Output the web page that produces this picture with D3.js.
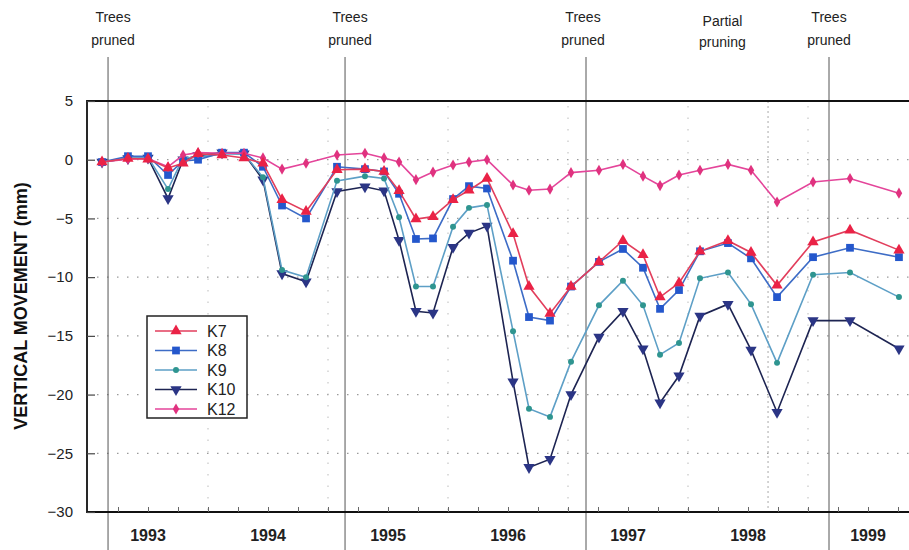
<!DOCTYPE html>
<html><head><meta charset="utf-8">
<script src="https://cdn.jsdelivr.net/npm/d3@7"></script>
<style>body{margin:0;background:#fff;}svg{display:block;font-family:"Liberation Sans",Arial,sans-serif;}</style>
</head><body>
<svg id="chart" width="909" height="550"></svg>
<script>
// ---- data ----
const times = [1993.117,1993.333,1993.5,1993.667,1993.792,1993.917,1994.117,1994.3,1994.458,1994.617,1994.817,
  1995.075,1995.308,1995.467,1995.592,1995.733,1995.875,1996.042,1996.175,1996.325,1996.542,1996.675,1996.85,
  1997.025,1997.258,1997.458,1997.625,1997.767,1997.925,1998.1,1998.333,1998.525,1998.742,1999.042,1999.35,1999.758];
const K7 = [-0.2,0.1,0.05,-0.7,-0.3,0.5,0.4,0.15,-0.3,-3.4,-4.4,-0.85,-0.8,-1.0,-2.65,-5.05,-4.85,-3.4,-2.6,-1.6,
  -6.3,-10.8,-13.1,-10.8,-8.7,-6.9,-8.1,-11.7,-10.5,-7.8,-6.9,-7.9,-10.7,-7.0,-6.0,-7.7];
const K8 = [-0.2,0.3,0.3,-1.3,-0.1,0.0,0.6,0.6,-0.6,-3.9,-5.0,-0.6,-0.8,-1.0,-2.9,-6.75,-6.7,-3.35,-2.25,-2.45,
  -8.6,-13.4,-13.7,-10.8,-8.7,-7.6,-9.2,-12.7,-11.1,-7.8,-7.1,-8.4,-11.7,-8.3,-7.5,-8.3];
const K9 = [-0.2,0.1,0.2,-2.5,0.15,0.2,0.5,0.5,-1.5,-9.4,-10.0,-1.8,-1.4,-1.6,-4.9,-10.8,-10.8,-5.7,-4.1,-3.85,
  -14.6,-21.2,-21.9,-17.2,-12.4,-10.3,-12.4,-16.6,-15.6,-10.1,-9.6,-12.3,-17.3,-9.8,-9.6,-11.7];
const K10 = [-0.2,0.1,0.15,-3.3,0.0,0.35,0.6,0.5,-1.7,-9.7,-10.4,-2.7,-2.3,-2.65,-6.85,-12.9,-13.05,-7.45,-6.25,-5.65,
  -18.9,-26.2,-25.5,-20.0,-15.1,-12.9,-16.1,-20.7,-18.4,-13.3,-12.3,-16.2,-21.5,-13.7,-13.7,-16.1];
const K12 = [-0.2,0.05,0.1,-0.6,0.4,0.6,0.55,0.55,0.15,-0.8,-0.3,0.4,0.55,0.15,-0.2,-1.7,-1.05,-0.45,-0.2,0.0,
  -2.15,-2.6,-2.5,-1.1,-0.9,-0.4,-1.4,-2.2,-1.3,-0.9,-0.4,-0.9,-3.6,-1.9,-1.6,-2.85];
const yearLabels = ["1993","1994","1995","1996","1997","1998","1999"];
const yTicks = [5,0,-5,-10,-15,-20,-25,-30];
const pruneTimes = [1993.167,1995.142,1997.15,1999.175];
const pruneLabels = [["Trees","pruned"],["Trees","pruned"],["Trees","pruned"],["Trees","pruned"]];
const partialTime = 1998.667;
const partialLabel = ["Partial","pruning"];

const seriesDefs = [
  {name:"K10", values:K10, line:"#1d2452", fill:"#2b3585", shape:"tridown"},
  {name:"K9",  values:K9,  line:"#5d9fc6", fill:"#2f9590", shape:"circle"},
  {name:"K8",  values:K8,  line:"#3d6cc6", fill:"#2457cc", shape:"square"},
  {name:"K12", values:K12, line:"#e4459a", fill:"#e0327f", shape:"diamond"},
  {name:"K7",  values:K7,  line:"#e23e5c", fill:"#ea2246", shape:"triup"}
];
const legendOrder = ["K7","K8","K9","K10","K12"];

// ---- layout ----
const svg = d3.select("#chart");
const L = 87, T = 101, B = 512, R = 909;
const x = d3.scaleLinear().domain([1993, 2000]).range([88, 928]);
const y = d3.scaleLinear().domain([-30, 5]).range([B, T]);

svg.append("clipPath").attr("id","clip").append("rect").attr("x",L).attr("y",T-10).attr("width",R-L).attr("height",B-T+20);

// gridlines dotted horizontal
svg.append("g").selectAll("line").data(yTicks.filter(v=>v<5 && v>-30)).join("line")
  .attr("x1",L+10).attr("x2",R).attr("y1",d=>y(d)).attr("y2",d=>y(d))
  .attr("stroke","#9a9a9a").attr("stroke-width",1.2).attr("stroke-dasharray","1.5,8.5");
// faint dotted year boundaries
svg.append("g").selectAll("line").data(d3.range(1994,2000)).join("line")
  .attr("x1",d=>x(d)).attr("x2",d=>x(d)).attr("y1",T+5).attr("y2",B)
  .attr("stroke","#bbb").attr("stroke-width",1).attr("stroke-dasharray","1.5,10");
// partial pruning line
svg.append("line").attr("x1",x(partialTime)).attr("x2",x(partialTime)).attr("y1",T).attr("y2",B)
  .attr("stroke","#aaa").attr("stroke-width",1).attr("stroke-dasharray","2,3");

// pruning lines
svg.append("g").selectAll("line").data(pruneTimes).join("line")
  .attr("x1",d=>x(d)).attr("x2",d=>x(d)).attr("y1",57).attr("y2",550)
  .attr("stroke","#555").attr("stroke-width",1);

// frame
svg.append("path").attr("d",`M${R},${T}H${L}V${B}H${R}`).attr("fill","none").attr("stroke","#111").attr("stroke-width",1.8);

// y axis ticks (inside)
const yAxis = d3.axisLeft(y).tickValues(yTicks).tickSize(-8).tickPadding(14).tickFormat(d3.format("d"));
const gy = svg.append("g").attr("transform",`translate(${L},0)`).call(yAxis);
gy.select(".domain").remove();
gy.selectAll("line").attr("stroke","#444").attr("stroke-width",1.2);
gy.selectAll("text").attr("font-size",15).attr("fill","#222").attr("font-family","Liberation Sans, Arial, sans-serif");

// x axis quarterly ticks (inside)
const xAxis = d3.axisBottom(x).tickValues(d3.range(1993.25,1999.9,0.25)).tickSize(-5).tickFormat("");
const gx = svg.append("g").attr("transform",`translate(0,${B})`).call(xAxis);
gx.select(".domain").remove();
gx.selectAll("line").attr("stroke","#666").attr("stroke-width",1);

// year labels
svg.append("g").selectAll("text").data(yearLabels).join("text")
  .attr("x",d=>x(+d+0.5)).attr("y",541).attr("text-anchor","middle")
  .attr("font-size",16).attr("font-weight","bold").attr("fill","#222").text(d=>d);

// y title
svg.append("text").attr("transform","translate(27,306) rotate(-90)").attr("text-anchor","middle")
  .attr("font-size",18).attr("font-weight","bold").attr("fill","#111").text("VERTICAL MOVEMENT (mm)");

// top annotations
const ann = pruneTimes.map((t,i)=>({t, lines:pruneLabels[i]})).concat([{t:partialTime-0.38, lines:partialLabel, partial:true}]);
const annOffsets = [5,5,-3,0,0];
ann.forEach((a,i)=>{
  const tx = svg.append("text").attr("text-anchor","middle").attr("font-size",14).attr("fill","#222");
  const cx = x(a.t) + (a.partial?0:annOffsets[i]);
  tx.append("tspan").attr("x",cx).attr("y",a.partial?26:22).text(a.lines[0]);
  tx.append("tspan").attr("x",cx).attr("y",a.partial?47:45).text(a.lines[1]);
});

// marker symbols
function sym(shape, size){
  const m = {triup:d3.symbolTriangle, tridown:d3.symbolTriangle, square:d3.symbolSquare, circle:d3.symbolCircle, diamond:d3.symbolDiamond};
  return d3.symbol().type(m[shape]).size(size)();
}
const sizes = {triup:55, tridown:55, square:60, circle:28, diamond:36};

const plot = svg.append("g").attr("clip-path","url(#clip)");
const lineGen = d3.line().x(d=>x(d.t)).y(d=>y(d.v));
seriesDefs.forEach(s=>{
  const pts = times.map((t,i)=>({t, v:s.values[i]}));
  plot.append("path").datum(pts).attr("d",lineGen).attr("fill","none").attr("stroke",s.line).attr("stroke-width",1.6);
  plot.append("g").selectAll("path").data(pts).join("path")
    .attr("d",sym(s.shape,sizes[s.shape]))
    .attr("transform",d=>`translate(${x(d.t)},${y(d.v)})${s.shape==="tridown"?" rotate(180)":""}`)
    .attr("fill",s.fill);
});

// legend
const lg = svg.append("g").attr("transform","translate(147,316)");
lg.append("rect").attr("width",100).attr("height",102).attr("fill","#fff").attr("stroke","#222").attr("stroke-width",1.5);
legendOrder.forEach((n,i)=>{
  const s = seriesDefs.find(d=>d.name===n);
  const yy = 15 + i*19.5;
  lg.append("line").attr("x1",8).attr("x2",50).attr("y1",yy).attr("y2",yy).attr("stroke",s.line).attr("stroke-width",1.6);
  lg.append("path").attr("d",sym(s.shape,sizes[s.shape])).attr("fill",s.fill)
    .attr("transform",`translate(29,${yy})${s.shape==="tridown"?" rotate(180)":""}`);
  lg.append("text").attr("x",60).attr("y",yy+5.5).attr("font-size",16).attr("fill","#222").text(n);
});
</script>
</body></html>
